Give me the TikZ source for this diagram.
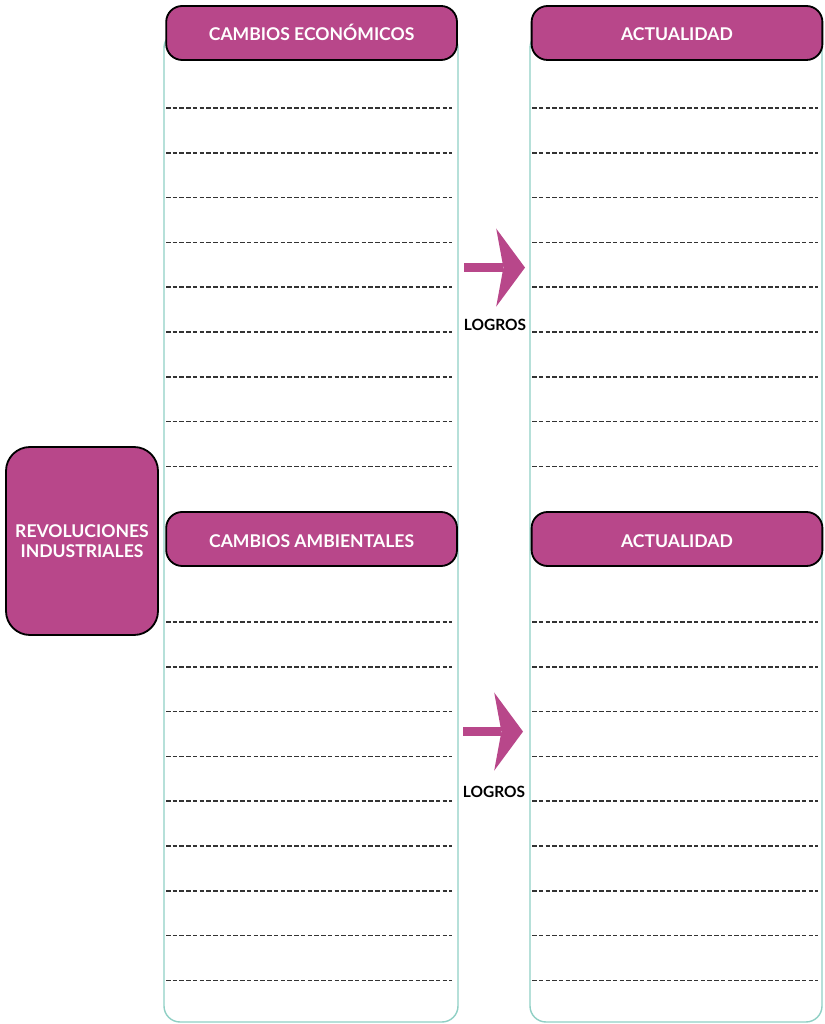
\documentclass[tikz,border=0pt]{standalone}
\usepackage{fontspec}
\setmainfont{Lato}
\usepackage{tikz}
\usetikzlibrary{arrows.meta,positioning}
\definecolor{revpink}{HTML}{B8478A}
\definecolor{colline}{HTML}{8FCFC4}

\begin{document}
\begin{tikzpicture}[
    titlebox/.style={draw=black, line width=1.3pt, fill=revpink, rounded corners=0.4cm, minimum width=7.27cm, minimum height=1.35cm, text height=2.5ex, text depth=0.25ex, text=white, font=\bfseries\fontsize{12.5}{15}\selectfont},
    column/.style={draw=colline, line width=1pt, rounded corners=0.4cm},
    writeline/.style={black!80, line width=1.1pt, dash pattern=on 3.2pt off 1.6pt},
    logroarrow/.style={revpink, line width=0.23cm, -{Stealth[length=0.72cm, width=1.95cm, inset=0.18cm, line width=0pt]}}
]
    \useasboundingbox (0,0) rectangle (20.6,25.6);

    % columns
    \draw[column] (4.1,0.05) rectangle (11.45,24.8);
    \draw[column] (13.25,0.05) rectangle (20.55,24.8);

    \foreach \top in {22.9,10.05} {
        \foreach \k in {0,...,8} {
            \draw[writeline] (4.15,{\top-1.12*\k}) -- (11.3,{\top-1.12*\k});
            \draw[writeline] (13.3,{\top-1.12*\k}) -- (20.45,{\top-1.12*\k});
        }
    }

    \node[titlebox] (econ) at (7.79,24.775) {CAMBIOS ECONÓMICOS};
    \node[titlebox] (hoyA) at (16.925,24.775) {ACTUALIDAD};
    \node[titlebox] (amb) at (7.79,12.125) {CAMBIOS AMBIENTALES};
    \node[titlebox] (hoyB) at (16.925,12.125) {ACTUALIDAD};

    \node[draw=black, line width=1.3pt, fill=revpink, rounded corners=0.6cm, minimum width=3.8cm, minimum height=4.7cm, text=white, align=center, font=\bfseries\fontsize{12.5}{14.2}\selectfont] (revol) at (2.05,12.075) {REVOLUCIONES\\INDUSTRIALES};

    % logros
    \coordinate (arrA) at (11.6,18.91);
    \coordinate (arrAend) at (13.125,18.91);
    \coordinate (arrB) at (11.575,7.31);
    \coordinate (arrBend) at (13.075,7.31);
    \draw[logroarrow] (arrA) -- (arrAend);
    \draw[logroarrow] (arrB) -- (arrBend);
    \node[font=\bfseries\fontsize{11}{13}\selectfont] (logA) at (12.375,17.47) {LOGROS};
    \node[font=\bfseries\fontsize{11}{13}\selectfont] (logB) at (12.35,5.8) {LOGROS};
\end{tikzpicture}
\end{document}
